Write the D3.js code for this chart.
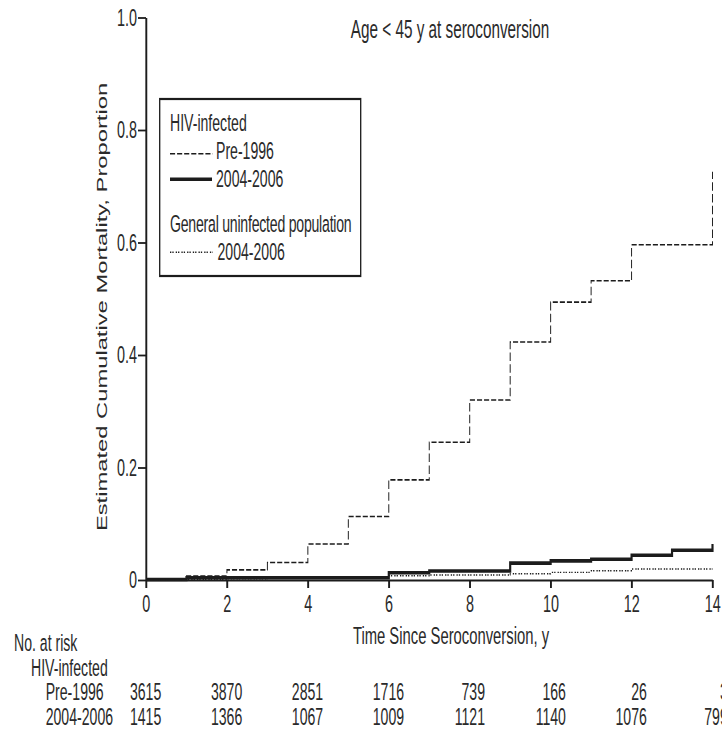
<!DOCTYPE html>
<html>
<head>
<meta charset="utf-8">
<script src="https://cdn.jsdelivr.net/npm/d3@7"></script>
<style>
  html, body { margin: 0; padding: 0; background: #fff; }
  svg { display: block; }
  text { font-family: "Liberation Sans", Arial, Helvetica, sans-serif; fill: #2a2a2a; }
</style>
</head>
<body>
<svg id="chart"></svg>
<script>
// ---------- data ----------
const title = "Age < 45 y at seroconversion";
const xTitle = "Time Since Seroconversion, y";
const yTitle = "Estimated Cumulative Mortality, Proportion";

const xTicks = [0, 2, 4, 6, 8, 10, 12, 14];
const yTicks = [0, 0.2, 0.4, 0.6, 0.8, 1.0];
const yTickLabels = ["0", "0.2", "0.4", "0.6", "0.8", "1.0"];

// HIV-infected, Pre-1996 (dashed)
const preTimes  = [0, 1, 2, 3, 4, 5, 6, 7, 8, 9, 10, 11, 12, 14];
const preValues = [0, 0.007, 0.018, 0.031, 0.064, 0.113, 0.178, 0.245, 0.320, 0.423, 0.494, 0.532, 0.596, 0.726];

// HIV-infected, 2004-2006 (thick solid)
const recTimes  = [0, 1, 6, 7, 9, 10, 11, 12, 13, 14];
const recValues = [0.001, 0.004, 0.013, 0.016, 0.030, 0.034, 0.037, 0.044, 0.053, 0.064];

// General uninfected population, 2004-2006 (dotted)
const genTimes  = [0, 1, 2, 3, 4, 5, 6, 7, 9, 10, 11, 12, 14];
const genValues = [0, 0.001, 0.002, 0.003, 0.004, 0.005, 0.0075, 0.009, 0.011, 0.0135, 0.0165, 0.0195, 0.0195];

// Number at risk
const riskTimes = [0, 2, 4, 6, 8, 10, 12, 14];
const riskPre   = [3615, 3870, 2851, 1716, 739, 166, 26, 3];
const riskRec   = [1415, 1366, 1067, 1009, 1121, 1140, 1076, 799];

// ---------- layout ----------
const W = 722, H = 731;
const SX = 0.6;                 // horizontal squeeze of the original figure
const IW = W / SX;              // internal width
const px = v => v / SX;         // pixel x -> internal x

const svg = d3.select("#chart")
  .attr("width", W).attr("height", H)
  .attr("viewBox", `0 0 ${IW} ${H}`)
  .attr("preserveAspectRatio", "none");

const x = d3.scaleLinear().domain([0, 14]).range([px(146), px(712.5)]);
const y = d3.scaleLinear().domain([0, 1]).range([580, 17.5]);

const ink = "#1c1c1c";

// ---------- axes ----------
const yAxis = svg.append("g")
  .attr("transform", `translate(${x(0)},0)`)
  .call(d3.axisLeft(y).tickValues(yTicks)
    .tickFormat((d, i) => yTickLabels[i])
    .tickSize(px(8)).tickSizeOuter(0).tickPadding(px(1)));
yAxis.select(".domain").attr("stroke", ink).attr("stroke-width", 3.2);
yAxis.selectAll(".tick line").attr("stroke", ink).attr("stroke-width", 1.8);
yAxis.selectAll(".tick text").attr("font-size", 24).attr("fill", "#2a2a2a")
  .attr("font-family", '"Liberation Sans", Arial, sans-serif');

const xAxis = svg.append("g")
  .attr("transform", `translate(0,${y(0)})`)
  .call(d3.axisBottom(x).tickValues(xTicks)
    .tickSize(8).tickSizeOuter(0).tickPadding(7));
xAxis.select(".domain").attr("stroke", ink).attr("stroke-width", 2);
xAxis.selectAll(".tick line").attr("stroke", ink).attr("stroke-width", 3.2);
xAxis.selectAll(".tick text").attr("font-size", 24).attr("fill", "#2a2a2a")
  .attr("font-family", '"Liberation Sans", Arial, sans-serif');

// ---------- curves ----------
const stepLine = d3.line()
  .x(d => x(d[0])).y(d => y(d[1]))
  .curve(d3.curveStepAfter);

svg.append("path")
  .datum(d3.zip(genTimes, genValues))
  .attr("d", stepLine)
  .attr("fill", "none").attr("stroke", ink)
  .attr("stroke-width", 1.4)
  .attr("stroke-dasharray", "2.2,1.7,2.2,3.4");

svg.append("path")
  .datum(d3.zip(recTimes, recValues))
  .attr("d", stepLine)
  .attr("fill", "none").attr("stroke", ink)
  .attr("stroke-width", 3.6);

svg.append("path")
  .datum(d3.zip(preTimes, preValues))
  .attr("d", stepLine)
  .attr("fill", "none").attr("stroke", ink)
  .attr("stroke-width", 1.6)
  .attr("stroke-dasharray", "8.5,3.3");

// ---------- titles ----------
svg.append("text")
  .attr("x", px(450)).attr("y", 38)
  .attr("text-anchor", "middle").attr("font-size", 25.5)
  .text(title);

svg.append("text")
  .attr("x", px(451)).attr("y", 644)
  .attr("text-anchor", "middle").attr("font-size", 24.7)
  .text(xTitle);

svg.append("text")
  .attr("transform", `translate(${px(106.5)},307) rotate(-90)`)
  .attr("text-anchor", "middle").attr("font-size", 23.75)
  .text(yTitle);

// ---------- legend ----------
const lg = svg.append("g");
lg.append("rect")
  .attr("x", px(159.7)).attr("y", 99)
  .attr("width", px(360.7) - px(159.7)).attr("height", 177)
  .attr("fill", "#fff").attr("stroke", ink).attr("stroke-width", 2.2);

const lfs = 23.5;
lg.append("text").attr("x", px(170)).attr("y", 131).attr("font-size", lfs).text("HIV-infected");

lg.append("line").attr("x1", px(170)).attr("x2", px(212.7)).attr("y1", 153.7).attr("y2", 153.7)
  .attr("stroke", ink).attr("stroke-width", 1.6).attr("stroke-dasharray", "8.5,3.3");
lg.append("text").attr("x", px(216)).attr("y", 159.5).attr("font-size", lfs).text("Pre-1996");

lg.append("line").attr("x1", px(170)).attr("x2", px(212)).attr("y1", 179.3).attr("y2", 179.3)
  .attr("stroke", ink).attr("stroke-width", 3.6);
lg.append("text").attr("x", px(216)).attr("y", 186.7).attr("font-size", lfs).text("2004-2006");

lg.append("text").attr("x", px(170)).attr("y", 231.7).attr("font-size", lfs)
  .attr("textLength", px(181.7)).attr("lengthAdjust", "spacing")
  .text("General uninfected population");

lg.append("line").attr("x1", px(170)).attr("x2", px(212.7)).attr("y1", 252.3).attr("y2", 252.3)
  .attr("stroke", ink).attr("stroke-width", 1.4).attr("stroke-dasharray", "2.2,1.7,2.2,3.4");
lg.append("text").attr("x", px(217.5)).attr("y", 260).attr("font-size", lfs).text("2004-2006");

// ---------- number at risk ----------
const tfs = 23.5;
svg.append("text").attr("x", px(14)).attr("y", 651).attr("font-size", tfs).text("No. at risk");
svg.append("text").attr("x", px(31)).attr("y", 675.7).attr("font-size", tfs).text("HIV-infected");
svg.append("text").attr("x", px(45.7)).attr("y", 700).attr("font-size", tfs).text("Pre-1996");
svg.append("text").attr("x", px(45.7)).attr("y", 725).attr("font-size", tfs).text("2004-2006");

svg.append("g").selectAll("text")
  .data(d3.zip(riskTimes, riskPre))
  .join("text")
  .attr("x", d => x(d[0]) + px(15.3)).attr("y", 700)
  .attr("text-anchor", "end").attr("font-size", tfs)
  .text(d => d[1]);

svg.append("g").selectAll("text")
  .data(d3.zip(riskTimes, riskRec))
  .join("text")
  .attr("x", d => x(d[0]) + px(15.3)).attr("y", 725)
  .attr("text-anchor", "end").attr("font-size", tfs)
  .text(d => d[1]);
</script>
</body>
</html>
